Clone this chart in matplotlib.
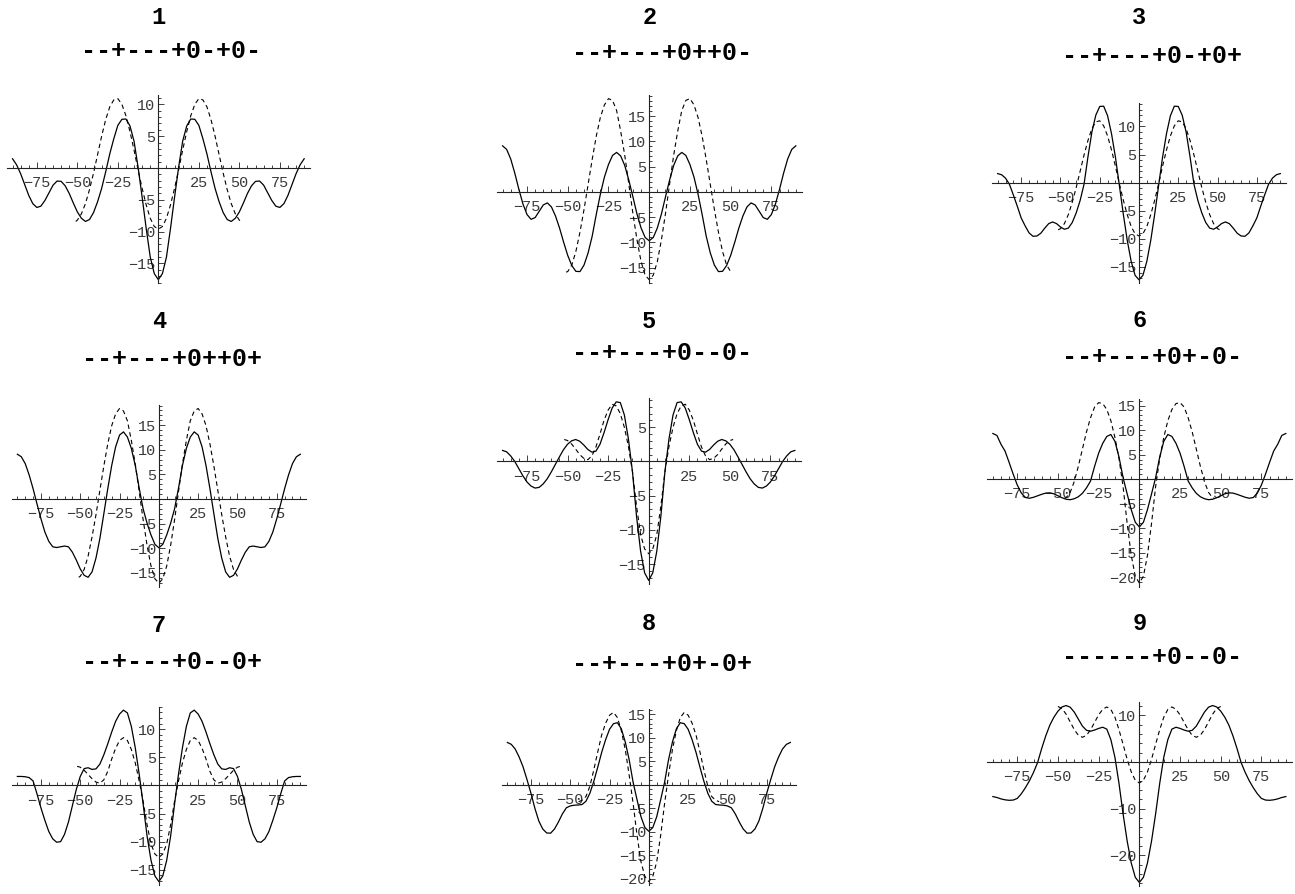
import matplotlib
matplotlib.use("Agg")
import matplotlib.pyplot as plt
from matplotlib.ticker import MultipleLocator, FuncFormatter

# Every curve is even in x, so only the half 0..90 is stored and mirrored.
X_HALF = [0, 2.5, 5, 7.5, 10, 12.5, 15, 17.5, 20, 22.5, 25, 27.5, 30, 32.5, 35, 37.5,
          40, 42.5, 45, 47.5, 50, 52.5, 55, 57.5, 60, 62.5, 65, 67.5, 70, 72.5, 75,
          77.5, 80, 82.5, 85, 87.5, 90]

NUMBERS = ["1", "2", "3", "4", "5", "6", "7", "8", "9"]
PATTERNS = ["--+---+0-+0-", "--+---+0++0-", "--+---+0-+0+",
            "--+---+0++0+", "--+---+0--0-", "--+---+0+-0-",
            "--+---+0--0+", "--+---+0+-0+", "------+0--0-"]

SOLID_1 = [-17.55, -16.6, -14.0, -9.5, -4.6, 0.1, 4.2, 6.6, 7.7, 7.65, 6.7, 4.6, 2.2, -0.6, -3.2, -5.3,
           -7.0, -8.1, -8.4, -7.9, -6.9, -5.5, -4.0, -2.8, -2.1, -2.05, -2.7, -3.9, -5.1, -6.0, -6.2,
           -5.6, -4.3, -2.6, -0.9, 0.5, 1.45]
SOLID_2 = [-9.7, -9.04, -7.15, -4.4, -1.0, 2.3, 5.2, 7.1, 7.8, 7.2, 5.4, 2.9, -0.5, -4.5, -8.8, -12.1,
           -14.5, -15.8, -15.75, -14.6, -12.6, -10.0, -7.2, -4.8, -3.0, -2.2, -2.6, -3.85, -5.1, -5.45, -4.5,
           -2.4, 0.5, 3.7, 6.5, 8.4, 9.1]
SOLID_3 = [-17.3, -16.5, -14.0, -10.25, -5.6, -0.5, 4.5, 8.7, 11.9, 13.6, 13.55, 12.0, 9.0, 4.6, -0.3, -3.2,
           -5.4, -7.1, -8.1, -8.3, -7.9, -7.3, -7.0, -7.3, -8.1, -9.0, -9.5, -9.55, -8.95, -7.7, -6.3,
           -4.2, -2.2, -0.3, 0.8, 1.4, 1.6]
SOLID_4 = [-9.9, -9.2, -7.3, -4.9, -2.0, 2.2, 6.8, 10.3, 12.6, 13.65, 13.0, 10.6, 6.8, 2.1, -3.0, -8.0,
           -12.0, -14.8, -15.9, -15.5, -14.2, -12.4, -10.8, -9.7, -9.55, -9.7, -9.85, -9.7, -8.6, -6.7, -4.0,
           -1.0, 2.1, 4.9, 7.2, 8.6, 9.1]
SOLID_5 = [-17.4, -16.3, -13.1, -8.0, -1.5, 3.3, 6.8, 8.6, 8.7, 7.8, 6.1, 4.2, 2.5, 1.5, 1.35, 1.75,
           2.4, 2.95, 3.2, 3.0, 2.5, 1.7, 0.65, -0.45, -1.55, -2.55, -3.3, -3.8, -3.9, -3.6, -3.0,
           -2.1, -1.05, 0.0, 0.8, 1.4, 1.6]
SOLID_6 = [-9.75, -8.8, -6.2, -3.0, 0.3, 4.5, 7.7, 9.1, 8.7, 7.3, 5.3, 2.6, -0.4, -1.8, -2.9, -3.6,
           -4.0, -4.2, -4.1, -3.8, -3.4, -3.0, -2.8, -2.85, -3.1, -3.4, -3.7, -3.9, -3.75, -2.85, -1.2,
           1.0, 3.4, 5.7, 7.1, 8.9, 9.3]
SOLID_7 = [-17.1, -16.1, -13.3, -9.0, -3.3, 2.0, 6.7, 10.5, 12.9, 13.4, 12.7, 11.4, 9.5, 7.4, 5.45, 3.8,
           2.95, 2.85, 3.15, 3.0, 1.6, -0.7, -3.6, -6.5, -8.7, -10.0, -10.1, -9.5, -8.2, -6.2, -4.0,
           -1.5, 0.8, 1.4, 1.55, 1.6, 1.6]
SOLID_8 = [-9.9, -9.1, -6.8, -3.2, 0.5, 5.3, 9.1, 11.9, 13.2, 13.0, 11.8, 9.6, 6.9, 3.75, 0.75, -1.8,
           -3.5, -4.2, -4.3, -4.35, -4.5, -4.9, -6.2, -7.9, -9.4, -10.3, -10.25, -9.4, -7.7, -5.0, -1.8,
           1.1, 3.8, 5.9, 7.6, 8.6, 9.0]
SOLID_9 = [-25.8, -24.7, -21.6, -16.9, -11.1, -4.6, 1.0, 4.8, 7.05, 7.45, 7.2, 6.85, 6.6, 6.8, 7.7, 9.2,
           10.7, 11.75, 12.1, 11.8, 10.9, 9.6, 7.9, 5.6, 2.9, -0.1, -2.2, -4.0, -5.5, -6.8, -7.8,
           -8.15, -8.2, -8.1, -7.9, -7.6, -7.4]

# dashed curves stop short of the outer range; DASH_END is their last x
DASHED_1 = [-9.6, -9.2, -7.9, -5.8, -3.2, -0.3, 2.8, 5.7, 8.2, 10.0, 10.9, 10.7, 9.6, 7.6, 5.0, 2.1,
            -0.8, -3.4, -5.6, -7.2, -8.2, -8.4]
DASHED_2 = [-17.4, -16.5, -13.8, -9.5, -4.3, 1.5, 7.2, 12.0, 16.1, 18.1, 18.45, 17.2, 14.7, 11.0, 6.4, 1.45,
            -3.5, -8.0, -11.8, -14.5, -15.8, -15.9]
DASHED_3 = [-9.5, -9.1, -7.8, -5.7, -3.1, -0.2, 2.9, 5.8, 8.3, 10.1, 11.0, 10.8, 9.6, 7.5, 4.9, 2.0,
            -0.9, -3.5, -5.7, -7.3, -8.2, -8.4]
DASHED_4 = [-17.1, -16.2, -13.6, -9.4, -4.2, 1.5, 7.1, 11.9, 15.9, 17.9, 18.4, 17.3, 14.9, 11.2, 6.7, 1.8,
            -3.2, -7.7, -11.6, -14.3, -15.7, -15.9]
DASHED_5 = [-13.5, -12.8, -10.7, -6.5, -1.5, 2.2, 5.0, 7.0, 8.1, 8.35, 7.5, 6.0, 4.0, 2.1, 0.8, 0.25,
            0.45, 1.0, 1.8, 2.55, 3.05, 3.2]
DASHED_6 = [-21.2, -19.8, -15.5, -9.0, -1.5, 4.2, 8.5, 11.9, 14.2, 15.4, 15.6, 14.7, 12.5, 9.6, 6.1, 2.6,
            -0.5, -2.7, -3.8, -3.9]
DASHED_7 = [-12.8, -12.2, -10.4, -7.0, -2.8, 0.8, 4.0, 6.4, 8.0, 8.5, 8.0, 6.6, 4.7, 2.5, 1.0, 0.4,
            0.6, 1.2, 1.95, 2.7, 3.25, 3.4]
DASHED_8 = [-20.6, -19.5, -16.4, -10.8, -4.0, 2.0, 7.5, 11.5, 14.3, 15.4, 14.8, 13.1, 10.6, 7.0, 3.2, -0.3,
            -2.5, -3.3, -3.6]
DASHED_9 = [-4.5, -3.9, -2.1, 0.6, 3.8, 6.9, 9.6, 11.25, 11.8, 11.3, 10.1, 8.5, 6.9, 5.7, 5.3, 5.75,
            6.95, 8.6, 10.25, 11.45, 11.9]
DASH_END = [51, 51, 51.5, 51, 52, 46, 52, 44.7, 50]

SOLIDS = [SOLID_1, SOLID_2, SOLID_3, SOLID_4, SOLID_5, SOLID_6, SOLID_7, SOLID_8, SOLID_9]
DASHEDS = [DASHED_1, DASHED_2, DASHED_3, DASHED_4, DASHED_5, DASHED_6, DASHED_7, DASHED_8, DASHED_9]
Y_MAJOR = [5, 5, 5, 5, 5, 5, 5, 5, 10]
Y_MINOR = [1, 1, 1, 1, 1, 1, 1, 1, 2]

# panel boxes in pixels: left, top, right, bottom
W, H = 1295, 894
BOXES = [(6.7, 95, 310, 283.3), (496.7, 95, 801.7, 283.3), (992, 102.7, 1286, 283.3),
         (11.7, 405, 306, 586.7), (496.7, 398.3, 800.7, 584), (987, 399, 1291.7, 586.7),
         (11.7, 706.7, 306, 885), (501.7, 709, 796, 885), (987, 702, 1291.7, 886)]
NUM_Y = [18, 18, 18, 321.7, 321.7, 320, 625, 624, 623]
SUB_Y = [51, 52.5, 56, 359, 353, 356.7, 661.7, 664, 656.7]

plt.rcParams['font.family'] = ['Liberation Mono', 'DejaVu Sans']
INK = '#222222'
LABEL = '#3a3a3a'


def mirror(xs, ys):
    return [-x for x in xs[:0:-1]] + list(xs), list(ys[:0:-1]) + list(ys)


def tick_text(v, pos):
    if abs(v) < 1e-9:
        return ''
    return f'{v:g}'.replace('-', '\u2212')


fig = plt.figure(figsize=(W / 100, H / 100), dpi=100)
fig.patch.set_facecolor('white')

for i in range(9):
    left, top, right, bottom = BOXES[i]
    ax = fig.add_axes([left / W, 1 - bottom / H, (right - left) / W, (bottom - top) / H])
    ax.patch.set_alpha(0)

    sx, sy = mirror(X_HALF, SOLIDS[i])
    dash_half = [x for x in X_HALF if x < DASH_END[i]] + [DASH_END[i]]
    dx, dy = mirror(dash_half, DASHEDS[i])

    ax.plot(sx, sy, color='black', lw=0.9, solid_joinstyle='round')
    ax.plot(dx, dy, color='black', lw=0.8, linestyle=(0, (4, 3)))

    lo = min(min(SOLIDS[i]), min(DASHEDS[i]))
    hi = max(max(SOLIDS[i]), max(DASHEDS[i]))
    pad = 0.02 * (hi - lo)
    ax.set_ylim(lo - pad, hi + pad)
    ax.set_xlim(-93.6, 93.6)

    # axes crossing at the origin
    ax.spines['left'].set_position(('data', 0))
    ax.spines['bottom'].set_position(('data', 0))
    ax.spines['top'].set_visible(False)
    ax.spines['right'].set_visible(False)
    for s in ('left', 'bottom'):
        ax.spines[s].set_color(INK)
        ax.spines[s].set_linewidth(0.8)

    ax.xaxis.set_major_locator(MultipleLocator(25))
    ax.xaxis.set_minor_locator(MultipleLocator(5))
    ax.yaxis.set_major_locator(MultipleLocator(Y_MAJOR[i]))
    ax.yaxis.set_minor_locator(MultipleLocator(Y_MINOR[i]))
    ax.xaxis.set_major_formatter(FuncFormatter(tick_text))
    ax.yaxis.set_major_formatter(FuncFormatter(tick_text))
    ax.tick_params(which='both', direction='in', color=INK, width=0.6,
                   labelcolor=LABEL, labelsize=11)
    ax.tick_params(which='major', length=4)
    ax.tick_params(which='minor', length=2)
    ax.tick_params(axis='x', which='major', pad=6)
    ax.tick_params(axis='y', which='major', pad=2)

    cx = (left + right) / 2
    fig.text(cx / W, 1 - NUM_Y[i] / H, NUMBERS[i], ha='center', va='center',
             fontsize=17, fontweight='bold', color='black')
    fig.text((cx + 13) / W, 1 - SUB_Y[i] / H, PATTERNS[i], ha='center', va='center',
             fontsize=18, fontweight='bold', color='black')

fig.savefig('out.png', dpi=100)
